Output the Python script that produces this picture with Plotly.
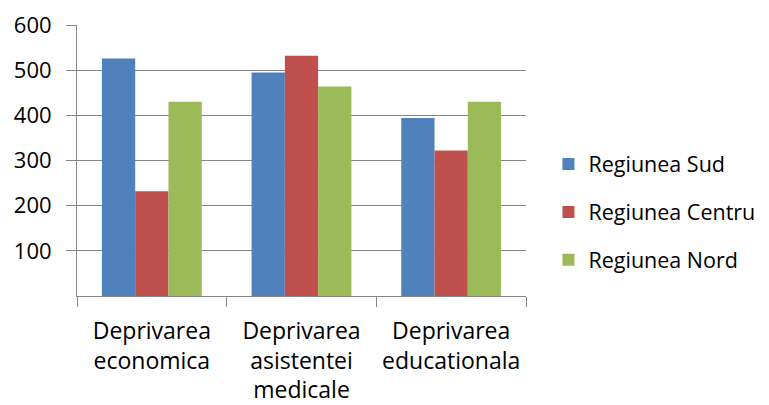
import plotly.graph_objects as go

categories = ["Deprivarea<br>economica", "Deprivarea<br>asistentei<br>medicale", "Deprivarea<br>educationala"]
series_names = ["Regiunea Sud", "Regiunea Centru", "Regiunea Nord"]
sud = [526, 495, 394]
centru = [232, 532, 322]
nord = [430, 464, 430]
colors = ["#4F81BD", "#C0504D", "#9BBB59"]
y_ticks = [100, 200, 300, 400, 500, 600]

fig = go.Figure()
for i, (name, vals) in enumerate(zip(series_names, [sud, centru, nord])):
    fig.add_trace(go.Bar(
        x=categories, y=vals, name=name,
        marker=dict(color=colors[i], line=dict(width=0)),
        legendgroup=name,
    ))

font = "'Open Sans', sans-serif"
# page body has an 8px margin, so the figure is shrunk by 8px and offsets reduced
fig.update_layout(
    width=761, height=397,
    margin=dict(l=69, r=243, t=17, b=109, autoexpand=False),
    paper_bgcolor="white", plot_bgcolor="white",
    barmode="group", bargap=0.333, bargroupgap=0,
    font=dict(family=font, size=22, color="#000000"),
    legend=dict(x=1.05, xanchor="left", y=0.31, yanchor="middle",
                font=dict(size=21.5), tracegroupgap=17, traceorder="grouped",
                itemwidth=30, borderwidth=0),
    xaxis=dict(showline=True, linecolor="#868686", linewidth=1,
               ticks="outside", ticklen=10, tickcolor="#868686",
               tickson="boundaries", showgrid=False, automargin=False,
               ticklabelstandoff=14, tickfont=dict(size=23)),
    yaxis=dict(range=[0, 600], tickvals=y_ticks, showgrid=True,
               gridcolor="#868686", gridwidth=1, showline=True,
               linecolor="#868686", ticks="outside", ticklen=10,
               tickcolor="#868686", zeroline=False, ticklabelstandoff=10,
               automargin=False),
)
fig.write_html("out.html")
